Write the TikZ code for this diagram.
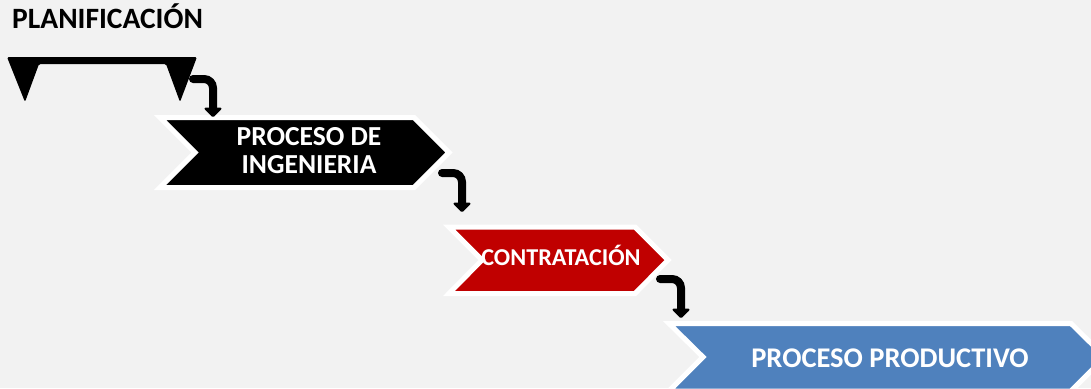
\documentclass[tikz,border=0pt]{standalone}
\usepackage{fontspec}
\setmainfont{Carlito}
\usetikzlibrary{arrows.meta}
\definecolor{bg}{HTML}{F2F2F2}
\definecolor{redc}{HTML}{C00000}
\definecolor{bluec}{HTML}{4F81BD}
\tikzset{
  chev/.style={draw=white, line width=5pt, line join=miter},
  lbl/.style={text=white, font=\bfseries, anchor=base, inner sep=0pt, align=center},
  bent/.style={line width=8pt, rounded corners=9pt, line cap=round, -{Triangle[width=20pt,length=10pt,round]}},
}
\begin{document}
\begin{tikzpicture}[x=1pt,y=-1pt]
\useasboundingbox (0,0) rectangle (1091,388);
\fill[bg] (0,0) rectangle (1091,388);
% planificacion
\node[anchor=base west, inner sep=0pt, font=\fontsize{29.5}{32}\selectfont\bfseries] (plantxt) at (12,28) {PLANIFICACIÓN};
\fill[black, rounded corners=1.5pt] (7,57) -- (197,57) -- (180,102) -- (166,64) -- (39,64) -- (25,102) -- cycle;
\coordinate (p1) at (193,79);
% chevron 1
\filldraw[chev, fill=black] (160,117.5) -- (414,117.5) -- (449,152.5) -- (414,187.5) -- (160,187.5) -- (195,152.5) -- cycle;
\node[lbl, font=\fontsize{27.5}{28}\selectfont\bfseries] (c1) at (309,145) {PROCESO DE};
\node[lbl, font=\fontsize{27.5}{28}\selectfont\bfseries] (c1b) at (309,173) {INGENIERIA};
\coordinate (c1top) at (213,117);
\coordinate (c1out) at (442,173);
% chevron 2
\filldraw[chev, fill=redc] (449,227) -- (635,227) -- (668,260) -- (635,293.5) -- (449,293.5) -- (482,260) -- cycle;
\node[lbl, font=\fontsize{24.2}{26}\selectfont\bfseries] (c2) at (561,265) {CONTRATACIÓN};
\coordinate (c2top) at (462,212);
\coordinate (c2out) at (660,279);
% chevron 3
\filldraw[chev, fill=bluec] (669,323.5) -- (1071,323.5) -- (1105,357) -- (1071,391) -- (669,391) -- (703,357) -- cycle;
\node[lbl, font=\fontsize{28.5}{30}\selectfont\bfseries] (c3) at (890,367) {PROCESO PRODUCTIVO};
\coordinate (c3top) at (681,318);
% arrows
\draw[bent] (p1) -| (c1top);
\draw[bent] (c1out) -| (c2top);
\draw[bent] (c2out) -| (c3top);
\end{tikzpicture}
\end{document}
